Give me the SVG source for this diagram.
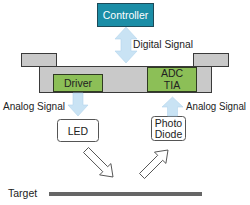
<svg xmlns="http://www.w3.org/2000/svg" width="250" height="205" viewBox="0 0 250 205">
<style>
text{font-family:"Liberation Sans",Arial,sans-serif;font-size:10.5px;fill:#222}
.c{text-anchor:middle}
.sig{fill:#c9e3f4;stroke:#b3d5ec;stroke-width:0.6}
.grn{fill:#8cbf57;stroke:#2f3a22;stroke-width:1}
.gry{fill:#c9c9c9;stroke:#3a3a3a;stroke-width:1}
.wht{fill:#fff;stroke:#555;stroke-width:1}
.hol{fill:#fff;stroke:#444;stroke-width:0.9;stroke-linejoin:miter}
</style>
<rect width="250" height="205" fill="#fff"/>
<g id="controller">
<rect x="97.5" y="3.5" width="56" height="23" fill="#1b8ea7" stroke="#1c4a58"/>
<text class="c" x="125.5" y="18.5" style="fill:#fff">Controller</text>
</g>
<g id="chip">
<rect class="gry" x="21.5" y="53.5" width="35" height="13"/>
<rect class="gry" x="193.5" y="53.5" width="35" height="13"/>
<rect class="gry" x="39.5" y="66.5" width="172" height="26"/>
</g>
<g id="driver">
<rect class="grn" x="53.5" y="74.5" width="49" height="17"/>
<text class="c" x="78" y="87">Driver</text>
</g>
<g id="adc">
<rect class="grn" x="147.5" y="67.5" width="49" height="24"/>
<text class="c" x="172" y="76.5">ADC</text>
<text class="c" x="172" y="89">TIA</text>
</g>
<g id="led">
<rect class="wht" x="57.5" y="119.5" width="41" height="22" rx="3"/>
<text class="c" x="78" y="135">LED</text>
</g>
<g id="photodiode">
<rect class="wht" x="151.5" y="116.5" width="34" height="24" rx="3"/>
<text class="c" x="168.5" y="126.5">Photo</text>
<text class="c" x="168.5" y="138">Diode</text>
</g>
<g id="target">
<text x="8" y="197">Target</text>
<rect x="49" y="192" width="153" height="4" fill="#666"/>
</g>
<g id="connectors">
<polygon class="sig" points="126,27 137,39 131,39 131,51 137,51 126,63 115,51 121,51 121,39 115,39"/>
<text x="133" y="47.5" textLength="60" lengthAdjust="spacingAndGlyphs">Digital Signal</text>
<polygon class="sig" points="73,93 83,93 83,105 88,105 78,116 68,105 73,105"/>
<text x="3" y="110" textLength="62" lengthAdjust="spacingAndGlyphs">Analog Signal</text>
<polygon class="sig" points="172.5,97 183,107 177.5,107 177.5,116 167.5,116 167.5,107 162,107"/>
<text x="186" y="110" style="font-size:10px" textLength="60" lengthAdjust="spacingAndGlyphs">Analog Signal</text>
<polygon class="hol" points="83.5,152.5 88.5,147.5 107.7,166.7 110.9,163.6 113,177 99.6,174.9 102.8,171.7"/>
<polygon class="hol" points="144.5,178.5 139.5,173.5 157.7,155.3 154.5,152.1 168,150 165.9,163.4 162.7,160.3"/>
</g>
</svg>
